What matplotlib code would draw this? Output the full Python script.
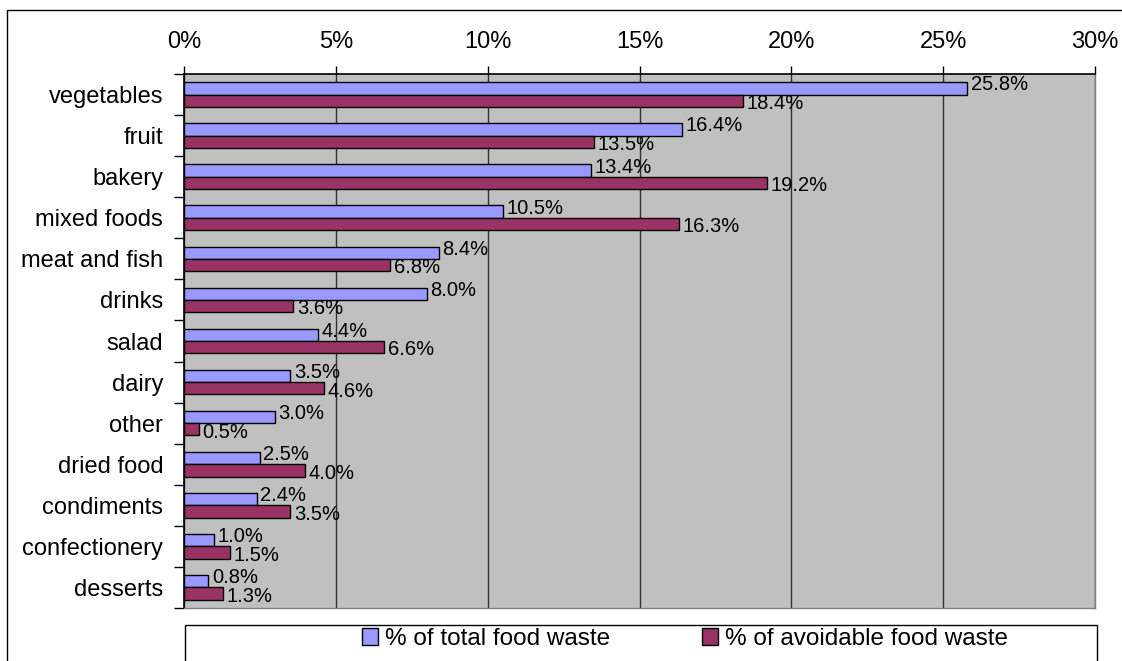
import matplotlib
matplotlib.use("Agg")
import matplotlib.pyplot as plt
from matplotlib.patches import Rectangle, Patch
import numpy as np

plt.rcParams['font.family'] = ['Liberation Sans', 'DejaVu Sans']

categories = ["vegetables", "fruit", "bakery", "mixed foods", "meat and fish", "drinks",
              "salad", "dairy", "other", "dried food", "condiments", "confectionery", "desserts"]
total_waste = [25.8, 16.4, 13.4, 10.5, 8.4, 8.0, 4.4, 3.5, 3.0, 2.5, 2.4, 1.0, 0.8]
avoidable_waste = [18.4, 13.5, 19.2, 16.3, 6.8, 3.6, 6.6, 4.6, 0.5, 4.0, 3.5, 1.5, 1.3]
series_names = ["% of total food waste", "% of avoidable food waste"]
x_ticks = [0, 5, 10, 15, 20, 25, 30]

W, H = 1122, 661
fig = plt.figure(figsize=(W / 100, H / 100), dpi=100)
fig.patch.set_facecolor("white")

# outer border
fig.add_artist(Rectangle((7 / W, -0.1), 2.0, 1.1 - 10 / H, transform=fig.transFigure,
                         fill=False, edgecolor="black", linewidth=1.0))

L, R, T, B = 184, 1095, 74, 608
ax = fig.add_axes([L / W, 1 - B / H, (R - L) / W, (B - T) / H])
ax.set_facecolor("#C0C0C0")

y = np.arange(len(categories))
bh = 0.3
blue = "#9999FF"
maroon = "#993366"
ax.barh(y - bh / 2, total_waste, height=bh, color=blue, edgecolor="black", linewidth=1.0, zorder=3)
ax.barh(y + bh / 2, avoidable_waste, height=bh, color=maroon, edgecolor="black", linewidth=1.0, zorder=3)

for yi, v in zip(y, total_waste):
    ax.annotate(f"{v:.1f}%", (v, yi - bh / 2), xytext=(2.5, 2.5), textcoords="offset points",
                ha="left", va="center", fontsize=14.5, zorder=4)
for yi, v in zip(y, avoidable_waste):
    ax.annotate(f"{v:.1f}%", (v, yi + bh / 2), xytext=(2.5, -2), textcoords="offset points",
                ha="left", va="center", fontsize=14.5, zorder=4)

ax.set_xlim(0, 30)
ax.set_ylim(len(categories) - 0.5, -0.5)
ax.xaxis.tick_top()
ax.set_xticks(x_ticks)
ax.set_xticklabels([f"{t}%" for t in x_ticks], fontsize=17)
ax.tick_params(axis="x", direction="out", length=6, width=1, pad=9, color="black")
ax.grid(axis="x", color="#303030", linewidth=1.0, zorder=1)
ax.set_axisbelow(True)

ax.set_yticks(y)
ax.set_yticklabels(categories, fontsize=17)
ax.tick_params(axis="y", which="major", length=0, pad=15)
ax.set_yticks(np.arange(len(categories) + 1) - 0.5, minor=True)
ax.tick_params(axis="y", which="minor", direction="out", length=7, width=1, color="black")

for s in ["left", "top"]:
    ax.spines[s].set_color("black")
    ax.spines[s].set_linewidth(1.2)
for s in ["right", "bottom"]:
    ax.spines[s].set_color("#808080")
    ax.spines[s].set_linewidth(1.0)

# legend box
lg_box = Rectangle((185 / W, -0.1), (1097 - 185) / W, 0.1 + (661 - 625) / H,
                   transform=fig.transFigure, fill=True, facecolor="white",
                   edgecolor="black", linewidth=1.0)
fig.add_artist(lg_box)
colors = [blue, maroon]
anchors = [362, 702]
for name, c, ax0 in zip(series_names, colors, anchors):
    fig.legend([Patch(facecolor=c, edgecolor="black")], [name], loc="center left",
               bbox_to_anchor=(ax0 / W, 1 - 639 / H), frameon=False, fontsize=17.5,
               handlelength=0.65, handleheight=0.65, handletextpad=0.3, borderpad=0,
               borderaxespad=0)

fig.savefig("out.png", dpi=100, facecolor="white")
